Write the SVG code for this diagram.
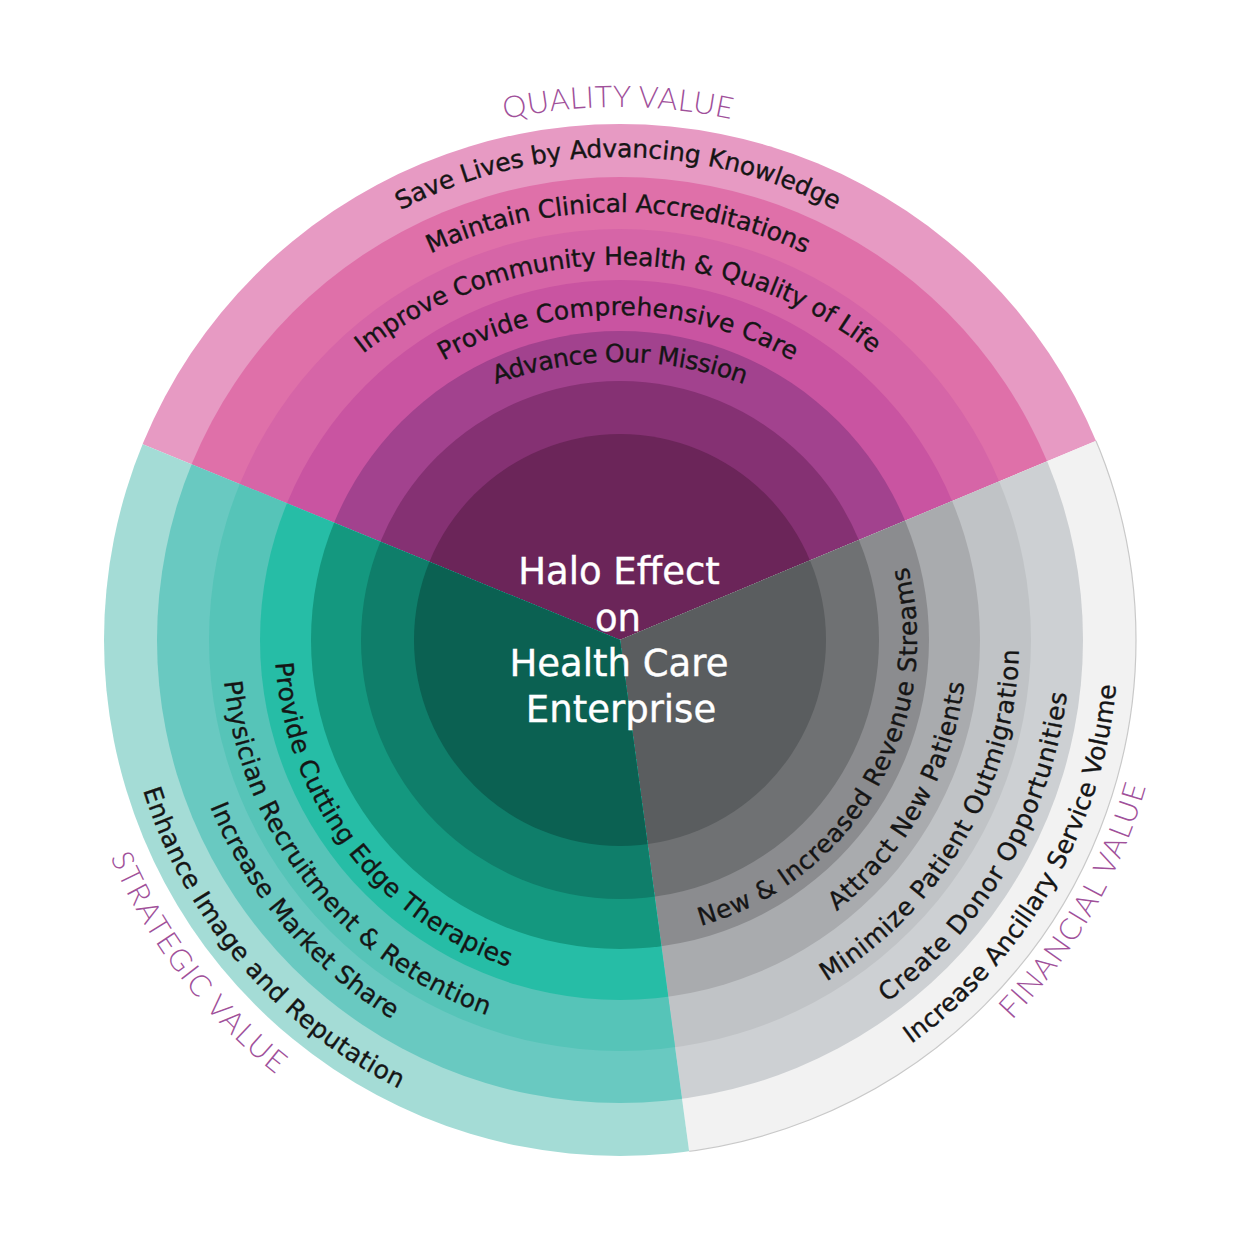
<svg xmlns="http://www.w3.org/2000/svg" width="1250" height="1250" viewBox="0 0 1250 1250">
<style>
.rt { font-family: "DejaVu Sans", "Liberation Sans", sans-serif; font-size: 25px; fill: #151515; stroke: #151515; stroke-width: 0.35px; text-anchor: middle; }
.tt { font-family: Lato, "Open Sans", sans-serif; font-weight: 300; font-size: 30px; fill: #a0509a; text-anchor: middle; }
.ct { font-family: "DejaVu Sans", "Liberation Sans", sans-serif; font-size: 37px; fill: #ffffff; stroke: #ffffff; stroke-width: 0.4px; text-anchor: middle; }
</style>
<defs>
<clipPath id="clipQ"><path d="M620,640 L64.9,412.3 A600,600 0 0 1 1173.5,408.5 Z"/></clipPath>
<clipPath id="clipF"><path d="M620,640 L1173.5,408.5 A600,600 0 0 1 700.4,1234.6 Z"/></clipPath>
<clipPath id="clipS"><path d="M620,640 L700.4,1234.6 A600,600 0 0 1 64.9,412.3 Z"/></clipPath>
<path id="pQ0" d="M85,640 A533,533 0 0 1 1151,640"/>
<path id="pQ1" d="M147,628 A471,471 0 0 1 1089,628"/>
<path id="pQ2" d="M176,654 A442,442 0 0 1 1060,654"/>
<path id="pQ3" d="M208,675 A410,410 0 0 1 1028,675"/>
<path id="pQ4" d="M262,671 A356,356 0 0 1 974,671"/>
<path id="pQ5" d="M260,722 A360,360 0 0 1 980,722"/>
<path id="pS0" d="M283.8,199.6 A554,554 0 0 0 956.2,1080.4"/>
<path id="pS1" d="M409.5,365.4 A346,346 0 0 0 830.5,914.6"/>
<path id="pS2" d="M373.6,327.4 A398,398 0 0 0 866.4,952.6"/>
<path id="pS3" d="M328.8,299.6 A448,448 0 0 0 911.2,980.4"/>
<path id="pS4" d="M294.3,260.6 A500,500 0 0 0 945.7,1019.4"/>
<path id="pF0" d="M345.8,1117.9 A551,551 0 0 0 894.2,162.1"/>
<path id="pF1" d="M471.7,897.4 A297,297 0 0 0 768.3,382.6"/>
<path id="pF2" d="M450.5,942.8 A347,347 0 0 0 789.5,337.2"/>
<path id="pF3" d="M419.9,985.2 A399,399 0 0 0 820.1,294.8"/>
<path id="pF4" d="M393.6,1028.9 A450,450 0 0 0 846.4,251.1"/>
<path id="pF5" d="M373.2,1072.6 A498,498 0 0 0 866.8,207.4"/>
</defs>
<rect width="1250" height="1250" fill="#ffffff"/>

<g id="quality-sector" clip-path="url(#clipQ)">
<circle cx="620" cy="640" r="516" fill="#e79ac3"/>
<circle cx="620" cy="640" r="463" fill="#df70a9"/>
<circle cx="620" cy="640" r="411" fill="#d665a7"/>
<circle cx="620" cy="640" r="360" fill="#c954a1"/>
<circle cx="620" cy="640" r="309" fill="#a2428e"/>
<circle cx="620" cy="640" r="259" fill="#853173"/>
<circle cx="620" cy="640" r="206" fill="#6b2559"/>
</g>
<g id="financial-sector" clip-path="url(#clipF)">
<circle cx="620" cy="640" r="516" fill="#f2f2f2" stroke="#c9c9c9" stroke-width="1.2"/>
<circle cx="620" cy="640" r="463" fill="#cdd0d3"/>
<circle cx="620" cy="640" r="411" fill="#c0c3c6"/>
<circle cx="620" cy="640" r="360" fill="#a9abae"/>
<circle cx="620" cy="640" r="309" fill="#8b8c8f"/>
<circle cx="620" cy="640" r="259" fill="#6f7173"/>
<circle cx="620" cy="640" r="206" fill="#5a5d5f"/>
</g>
<g id="strategic-sector" clip-path="url(#clipS)">
<circle cx="620" cy="640" r="516" fill="#a4dcd6"/>
<circle cx="620" cy="640" r="463" fill="#69c9c1"/>
<circle cx="620" cy="640" r="411" fill="#56c4b8"/>
<circle cx="620" cy="640" r="360" fill="#26bda6"/>
<circle cx="620" cy="640" r="309" fill="#14987f"/>
<circle cx="620" cy="640" r="259" fill="#0f7e6a"/>
<circle cx="620" cy="640" r="206" fill="#0b6152"/>
</g>

<g id="quality-labels">
<text class="tt"><textPath href="#pQ0" startOffset="50%" textLength="228">QUALITY VALUE</textPath></text>
<text class="rt"><textPath href="#pQ1" startOffset="50%" textLength="452">Save Lives by Advancing Knowledge</textPath></text>
<text class="rt"><textPath href="#pQ2" startOffset="50%" textLength="387">Maintain Clinical Accreditations</textPath></text>
<text class="rt"><textPath href="#pQ3" startOffset="50%" textLength="550">Improve Community Health &amp; Quality of Life</textPath></text>
<text class="rt"><textPath href="#pQ4" startOffset="50%" textLength="365">Provide Comprehensive Care</textPath></text>
<text class="rt"><textPath href="#pQ5" startOffset="50%" textLength="254">Advance Our Mission</textPath></text>
</g>
<g id="strategic-labels">
<text class="tt"><textPath href="#pS0" startOffset="50%" textLength="276">STRATEGIC VALUE</textPath></text>
<text class="rt"><textPath href="#pS1" startOffset="50%" textLength="406">Provide Cutting Edge Therapies</textPath></text>
<text class="rt"><textPath href="#pS2" startOffset="50%" textLength="448">Physician Recruitment &amp; Retention</textPath></text>
<text class="rt"><textPath href="#pS3" startOffset="50%" textLength="285">Increase Market Share</textPath></text>
<text class="rt"><textPath href="#pS4" startOffset="50%" textLength="404">Enhance Image and Reputation</textPath></text>
</g>
<g id="financial-labels">
<text class="tt"><textPath href="#pF0" startOffset="50%" textLength="272">FINANCIAL VALUE</textPath></text>
<text class="rt"><textPath href="#pF1" startOffset="50%" textLength="459">New &amp; Increased Revenue Streams</textPath></text>
<text class="rt"><textPath href="#pF2" startOffset="50%" textLength="268">Attract New Patients</textPath></text>
<text class="rt"><textPath href="#pF3" startOffset="50%" textLength="400">Minimize Patient Outmigration</textPath></text>
<text class="rt"><textPath href="#pF4" startOffset="50%" textLength="368">Create Donor Opportunities</textPath></text>
<text class="rt"><textPath href="#pF5" startOffset="50%" textLength="426">Increase Ancillary Service Volume</textPath></text>
</g>
<g id="center-label">
<text class="ct" x="619" y="584">Halo Effect</text>
<text class="ct" x="618" y="631">on</text>
<text class="ct" x="619" y="676">Health Care</text>
<text class="ct" x="621" y="722">Enterprise</text>
</g>
</svg>
